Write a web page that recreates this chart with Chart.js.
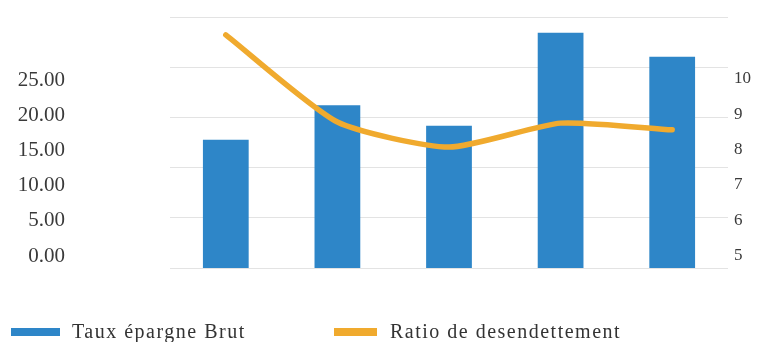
<!DOCTYPE html>
<html><head><meta charset="utf-8">
<script src="https://cdn.jsdelivr.net/npm/chart.js@4/dist/chart.umd.min.js"></script>
<style>
html,body{margin:0;padding:0;background:#fff;}
#wrap{position:relative;width:758px;height:342px;overflow:hidden;}
canvas{position:absolute;left:0;top:0;}
.lg{position:absolute;font-family:"Liberation Serif",serif;font-size:20px;line-height:20px;letter-spacing:1.5px;color:#333;white-space:nowrap;}
.sw{position:absolute;height:8px;}
</style></head>
<body><div id="wrap"><canvas id="c" width="758" height="342"></canvas><div id="legend"></div></div>
<script>
// ---- data ----
const categories = ["1", "2", "3", "4", "5"];
const seriesNames = ["Taux épargne Brut", "Ratio de desendettement"];
const tauxEpargneBrut = [16.5, 21.4, 18.5, 31.7, 28.3];
const ratioDesendettement = [11.25, 8.78, 8.07, 8.75, 8.56];
const leftTicks = [0, 5, 10, 15, 20, 25];
const rightTicks = [5, 6, 7, 8, 9, 10];

// ---- styling / layout ----
const BAR_COLOR = '#2E86C8';
const LINE_COLOR = '#F0AA2E';
const Y_MIN = -1.705, Y_MAX = 33.95;
const Y1_MIN = 4.646, Y1_MAX = 11.756;

const chart = new Chart(document.getElementById('c'), {
  type: 'bar',
  data: {
    labels: categories,
    datasets: [
      {
        type: 'bar', label: seriesNames[0], data: tauxEpargneBrut,
        backgroundColor: BAR_COLOR, borderWidth: 0, yAxisID: 'y',
        base: Y_MIN, barPercentage: 0.41, categoryPercentage: 1, order: 2
      },
      {
        type: 'line', label: seriesNames[1], data: ratioDesendettement,
        borderColor: LINE_COLOR, backgroundColor: LINE_COLOR, borderWidth: 5.5,
        pointRadius: 0, tension: 0.2, borderCapStyle: 'round', borderJoinStyle: 'round',
        yAxisID: 'y1', order: 1
      }
    ]
  },
  options: {
    responsive: false, animation: false, devicePixelRatio: 1,
    layout: { padding: { top: 17, bottom: 74, left: 0, right: 0 } },
    plugins: { legend: { display: false }, tooltip: { enabled: false } },
    scales: {
      x: { display: false, offset: true },
      y: {
        position: 'left', weight: 1, min: Y_MIN, max: Y_MAX,
        grid: { display: false, drawTicks: false }, border: { display: false },
        afterBuildTicks: s => { s.ticks = leftTicks.map(v => ({ value: v })); },
        afterFit: s => { s.width = 65; },
        ticks: {
          padding: 0, color: '#3a3a3a',
          font: { family: '"Liberation Serif", serif', size: 21 },
          callback: v => Number(v).toFixed(2)
        }
      },
      yGrid: {
        position: 'left', weight: 0, min: 0, max: 5,
        grid: { color: '#e3e3e3', lineWidth: 1, drawTicks: false },
        border: { display: false },
        ticks: { display: false, stepSize: 1 },
        afterFit: s => { s.width = 105; }
      },
      y1: {
        position: 'right', min: Y1_MIN, max: Y1_MAX,
        grid: { display: false, drawTicks: false }, border: { display: false },
        afterBuildTicks: s => { s.ticks = rightTicks.map(v => ({ value: v })); },
        afterFit: s => { s.width = 30; },
        ticks: {
          padding: 6, color: '#3a3a3a',
          font: { family: '"Liberation Serif", serif', size: 17 },
          callback: v => String(v)
        }
      }
    }
  }
});

// ---- HTML legend built from the chart's datasets ----
const legendPos = [
  { sw: 11, swW: 49, tx: 72 },
  { sw: 334, swW: 43, tx: 390 }
];
const lg = document.getElementById('legend');
chart.data.datasets.forEach((ds, i) => {
  const p = legendPos[i];
  const sw = document.createElement('div');
  sw.className = 'sw';
  sw.style.left = p.sw + 'px'; sw.style.top = '328px'; sw.style.width = p.swW + 'px';
  sw.style.background = ds.type === 'line' ? ds.borderColor : ds.backgroundColor;
  lg.appendChild(sw);
  const tx = document.createElement('div');
  tx.className = 'lg';
  tx.style.left = p.tx + 'px'; tx.style.top = '321px';
  tx.textContent = ds.label;
  lg.appendChild(tx);
});
</script>
</body></html>
